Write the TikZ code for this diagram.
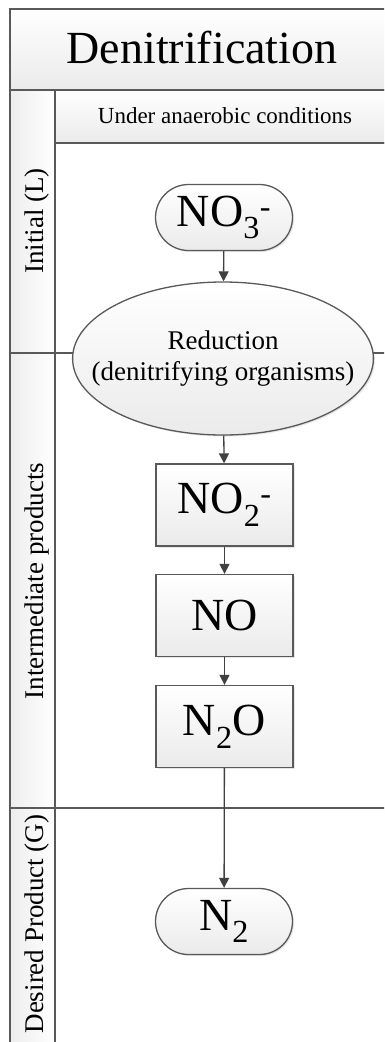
\documentclass[tikz,border=0pt]{standalone}
\usepackage{fontspec}
\setmainfont{Liberation Serif}
\usetikzlibrary{shapes.geometric, shapes.misc, arrows.meta, shadows}

\definecolor{linec}{HTML}{595959}
\definecolor{arrc}{HTML}{404040}

\tikzset{
  lane/.style = {draw = linec, line width = 1.4pt},
  cell/.style = {lane, top color = white, bottom color = black!8},
  strip/.style = {lane, left color = black!7, right color = white},
  shade/.style = {drop shadow = {shadow xshift = 1.5pt, shadow yshift = -1.5pt, opacity = 0.2}},
  term/.style = {rounded rectangle, draw = linec, line width = 1.3pt, shade,
    top color = white, bottom color = black!8, inner sep = 0pt,
    minimum width = 137pt, minimum height = 66pt, font = \fontsize{46}{50}\selectfont},
  chem/.style = {rectangle, draw = linec, line width = 1.3pt, shade,
    top color = white, bottom color = black!8, inner sep = 0pt,
    minimum width = 137pt, minimum height = 82pt, font = \fontsize{46}{50}\selectfont},
  proc/.style = {ellipse, draw = linec, line width = 1.3pt, shade,
    top color = white, bottom color = black!8, inner xsep = -25pt, inner ysep = 0pt,
    align = center, minimum width = 300pt, minimum height = 153pt,
    font = \fontsize{27}{31}\selectfont},
  lanetext/.style = {rotate = 90, anchor = base, font = \fontsize{27}{31}\selectfont},
  flow/.style = {draw = arrc, line width = 1.3pt, -{Triangle[width = 10pt, length = 10pt]}},
}

\begin{document}
\begin{tikzpicture}[x = 1pt, y = -1pt]
		\useasboundingbox (0, 0) rectangle (384, 1042);
		%%%%%%%%%%%%% pool and lanes
		\begin{scope}
		\clip (0, 0) rectangle (384, 1042);
		\path[cell] (10, 9) rectangle (394, 90);
		\path[cell] (55, 90) rectangle (394, 143);
		\path[strip] (10, 90) rectangle (55, 1060);
		\draw[lane] (55, 143) -- (394, 143);
		\draw[lane] (10, 353) -- (394, 353);
		\draw[lane] (10, 808) -- (394, 808);
		\draw[lane] (394, 9) -- (394, 1060);
		\end{scope}
		\node[anchor = base, font = \fontsize{46}{50}\selectfont] (title) at (202, 63) {Denitrification};
		\node[anchor = base, font = \fontsize{23}{27}\selectfont] (cond) at (225, 123) {Under anaerobic conditions};
		\node[lanetext] (initial) at (43, 221) {Initial (L)};
		\node[lanetext] (inter) at (43, 581) {Intermediate products};
		\node[lanetext] (desired) at (43, 924) {Desired Product (G)};
		%%%%%%%%%%%%% steps
		\node[term] (no3) at (224, 217.5) {NO\textsubscript{3}\textsuperscript{-}};
		\node[proc] (red) at (223, 358.5) {Reduction\\(denitrifying organisms)};
		\node[chem] (no2) at (224.5, 505) {NO\textsubscript{2}\textsuperscript{-}};
		\node[chem] (no) at (224.5, 615.5) {NO};
		\node[chem] (n2o) at (224.5, 726.5) {N\textsubscript{2}O};
		\node[term] (n2) at (224, 921.5) {N\textsubscript{2}};
		%%%%%%%%%%%%%
		\draw[flow] (no3) -- (red);
		\draw[flow] (red) -- (no2);
		\draw[flow] (no2) -- (no);
		\draw[flow] (no) -- (n2o);
		\draw[flow] (n2o) -- (n2);
\end{tikzpicture}
\end{document}
